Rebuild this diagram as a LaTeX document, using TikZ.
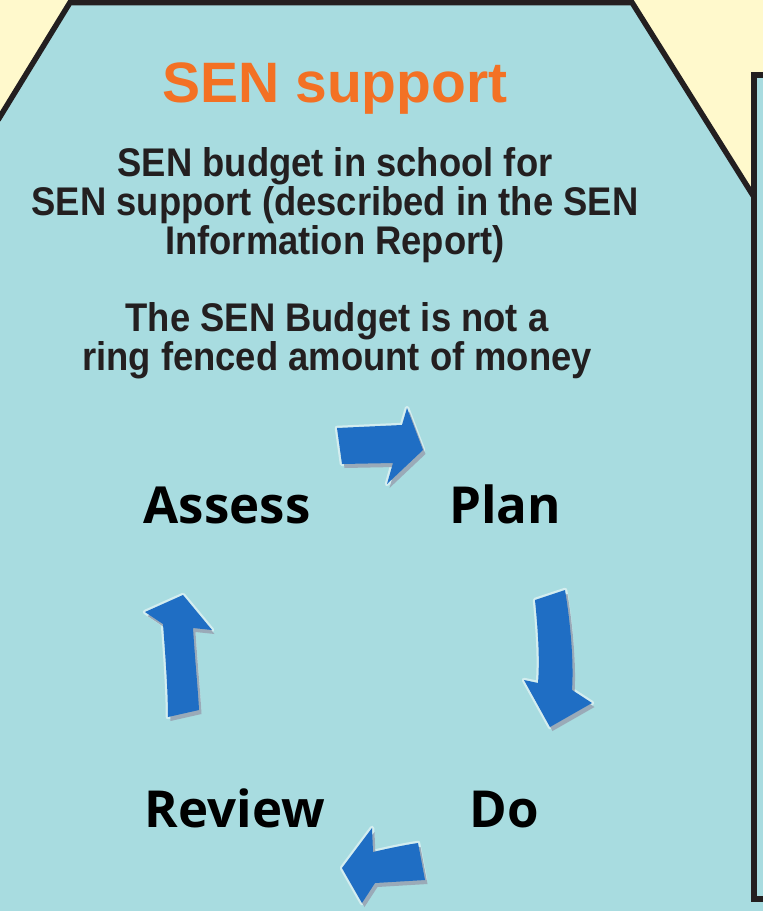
\documentclass[tikz,border=0pt]{standalone}
\usepackage{fontspec}
\setmainfont{Liberation Sans}
\newfontfamily\cyclefont{Open Sans}
\newfontfamily\bodyfont[FakeStretch=0.91]{Liberation Sans}
\definecolor{bgyellow}{HTML}{FFF9CC}
\definecolor{panelblue}{HTML}{A8DCE0}
\definecolor{titleorange}{HTML}{F37124}
\definecolor{inkdark}{HTML}{231F20}
\definecolor{arrowblue}{HTML}{1F6EC4}
\definecolor{shadowgray}{HTML}{9AAAB8}
\newcommand\shadedarrow[1]{%
  \path[draw=white!50!panelblue, line width=4.5pt, line join=round, fill=white!50!panelblue] #1;
  \fill[shadowgray, shift={(2.5,4)}] #1;
  \fill[arrowblue] #1;}
\begin{document}
\begin{tikzpicture}[x=1pt,y=-1pt,
  outline/.style={draw=inkdark, line width=5.5pt, line join=miter},
  titletext/.style={anchor=base, text=titleorange, font=\bfseries\fontsize{57}{60}\selectfont, inner sep=0pt},
  bodytext/.style={anchor=base, text=inkdark, font=\bodyfont\bfseries\fontsize{40}{39}\selectfont, inner sep=0pt},
  cycletext/.style={anchor=base, text=black, font=\cyclefont\bfseries\fontsize{51}{54}\selectfont, inner sep=0pt}]
\useasboundingbox (0,0) rectangle (763,911);
\fill[bgyellow] (0,0) rectangle (763,911);
\fill[panelblue] (0,117) -- (70,2.5) -- (632,2.5) -- (754,197) -- (754,899) -- (763,899) -- (763,911) -- (0,911) -- cycle;
\draw[outline] (-2,120) -- (70,2.5) -- (632,2.5) -- (754,197);
\draw[outline, line width=6pt, fill=panelblue] (754,74.5) rectangle (790,899);

\node[titletext] (title) at (335,102) {SEN support};
\node[bodytext] (b1) at (335,176) {SEN budget in school for};
\node[bodytext] (b2) at (335,215) {SEN support (described in the SEN};
\node[bodytext] (b3) at (335,254) {Information Report)};
\node[bodytext] (r1) at (337,331) {The SEN Budget is not a};
\node[bodytext] (r2) at (337,370) {ring fenced amount of money};

\node[cycletext] (assess) at (227,523) {Assess};
\node[cycletext] (plan) at (505,523) {Plan};
\node[cycletext] (review) at (235,827) {Review};
\node[cycletext] (do) at (504,827) {Do};

\shadedarrow{(337,428) -- (402,425) -- (407,408) -- (423,450) -- (387,484) -- (393,463) -- (342,464) -- cycle}
\shadedarrow{(535,600) .. controls (538,630) and (540,660) .. (538,683) -- (524,680) -- (550,727) -- (592,703) -- (572,690) .. controls (574,660) and (570,620) .. (565,590) -- cycle}
\shadedarrow{(342,868) -- (372,828) -- (373,852) .. controls (390,848) and (405,845) .. (418,843) -- (425,880) -- (375,883) -- (362,903) -- cycle}
\shadedarrow{(163,624) -- (145,612) -- (183,595) -- (212,630) -- (193,628) .. controls (195,660) and (198,690) .. (199,710) -- (168,717) .. controls (168,690) and (165,650) .. (163,624) -- cycle}
\end{tikzpicture}
\end{document}
